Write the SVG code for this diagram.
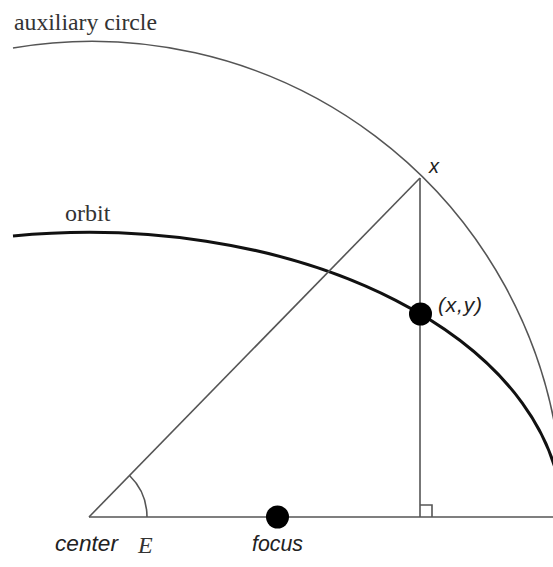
<svg xmlns="http://www.w3.org/2000/svg" width="553" height="567" viewBox="0 0 553 567">
<style>
.thin{fill:none;stroke:#555;stroke-width:1.6}
.orbit{fill:none;stroke:#111;stroke-width:3}
.dot{fill:#000}
.serif{font-family:"Liberation Serif","Times New Roman",serif;fill:#333;font-size:24px}
.sans{font-family:"Liberation Sans",Arial,sans-serif;font-style:italic;fill:#222}
</style>
<rect width="553" height="567" fill="#fff"/>
<g id="connectors">
  <path id="aux-circle" class="thin" d="M13,48 A471,471 0 0 1 560,460"/>
  <path id="orbit-curve" class="orbit" d="M13,236 A473,285 0 0 1 562,517"/>
  <line class="thin" x1="89" y1="517" x2="420" y2="178"/>
  <line class="thin" x1="420" y1="178" x2="420" y2="517"/>
  <line class="thin" x1="89" y1="517" x2="553" y2="517"/>
  <path class="thin" d="M420,505 H432 V517"/>
  <path class="thin" d="M147,517 A58,58 0 0 0 129.5,475.5"/>
</g>
<g id="label-aux"><text class="serif" x="14" y="30" textLength="143" lengthAdjust="spacingAndGlyphs">auxiliary circle</text></g>
<g id="label-orbit"><text class="serif" x="65" y="221">orbit</text></g>
<g id="node-x"><text class="sans" x="429" y="173" font-size="20">x</text></g>
<g id="node-xy">
  <circle class="dot" cx="420.5" cy="314" r="11.5"/>
  <text class="sans" x="438" y="312" font-size="21" textLength="44" lengthAdjust="spacing">(x,y)</text>
</g>
<g id="node-center"><text class="sans" x="55" y="551" font-size="22" textLength="63" lengthAdjust="spacingAndGlyphs">center</text></g>
<g id="node-E"><text x="138" y="553" font-family="Liberation Serif, serif" font-style="italic" font-size="24" fill="#333">E</text></g>
<g id="node-focus">
  <circle class="dot" cx="277.5" cy="517" r="11.5"/>
  <text class="sans" x="252" y="551" font-size="22" textLength="51" lengthAdjust="spacingAndGlyphs">focus</text>
</g>
</svg>
